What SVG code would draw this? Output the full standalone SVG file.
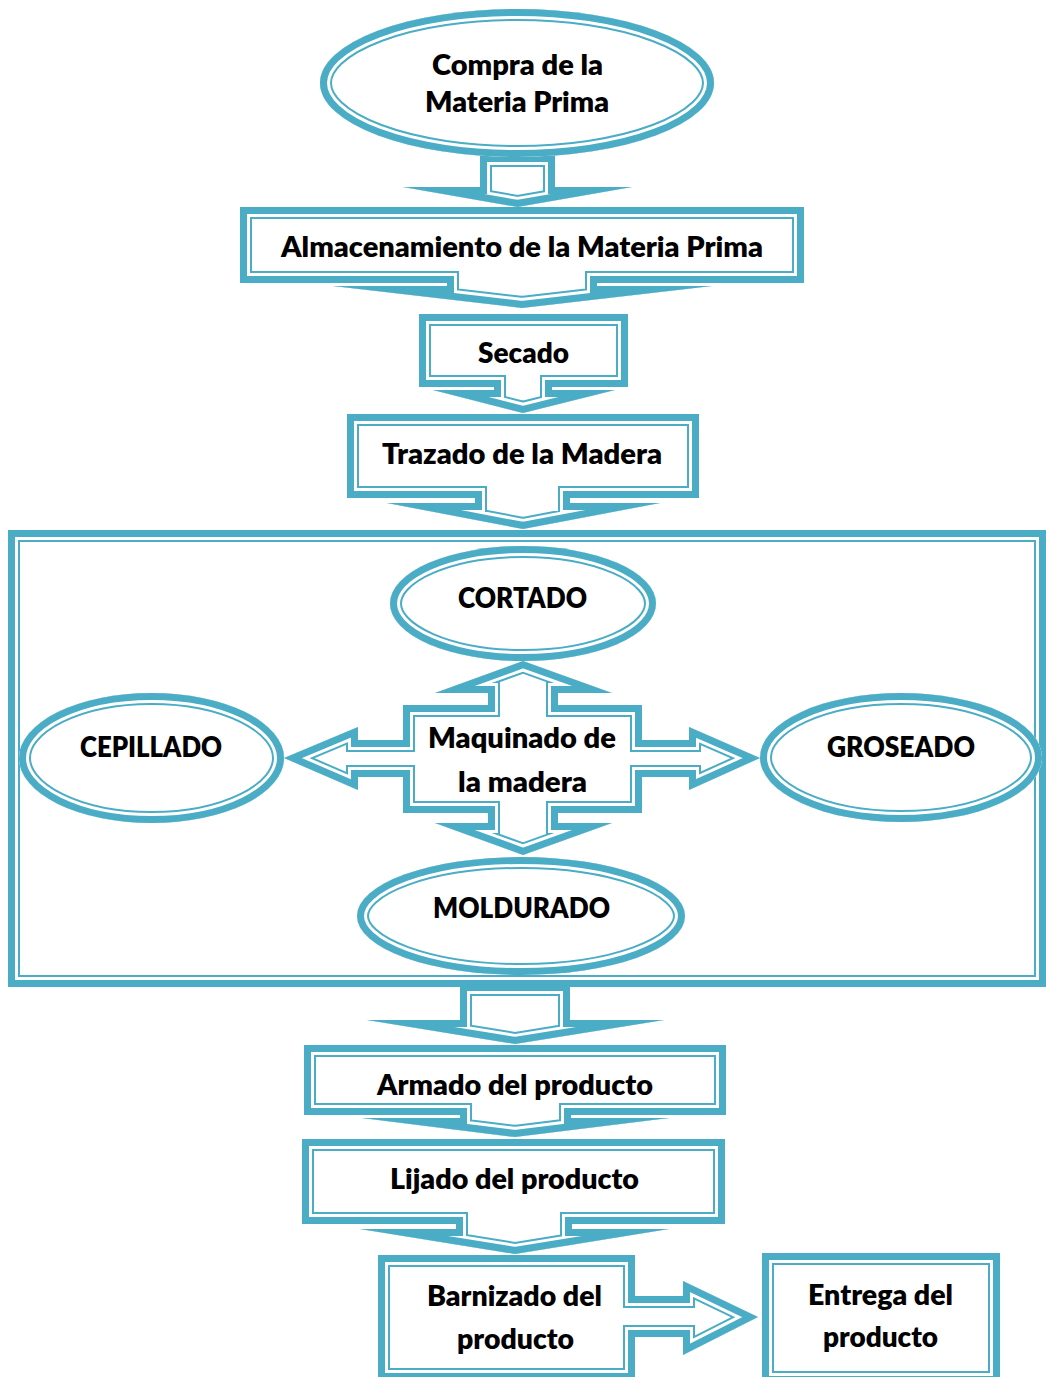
<svg xmlns="http://www.w3.org/2000/svg" xmlns:xlink="http://www.w3.org/1999/xlink" width="1046" height="1377" viewBox="0 0 1046 1377">
<style>
.body{fill:#ffffff;stroke:none}
.k1{fill:none;stroke:#4BACC6;stroke-width:24;stroke-linejoin:miter;stroke-miterlimit:20}
.k2{fill:none;stroke:#ffffff;stroke-width:20;stroke-linejoin:miter;stroke-miterlimit:20}
.k3{fill:none;stroke:#4BACC6;stroke-width:14;stroke-linejoin:miter;stroke-miterlimit:20}
text{font-family:"Lato","Liberation Sans",sans-serif;font-weight:800;font-size:29px;fill:#000000;text-anchor:middle}
</style>
<defs>
<clipPath id="c-a1"><use href="#s-a1"/></clipPath>
<clipPath id="c-a2"><use href="#s-a2"/></clipPath>
<clipPath id="c-compra"><use href="#s-compra"/></clipPath>
<clipPath id="c-alm"><use href="#s-alm"/></clipPath>
<clipPath id="c-sec"><use href="#s-sec"/></clipPath>
<clipPath id="c-tra"><use href="#s-tra"/></clipPath>
<clipPath id="c-big"><use href="#s-big"/></clipPath>
<clipPath id="c-cor"><use href="#s-cor"/></clipPath>
<clipPath id="c-maq"><use href="#s-maq"/></clipPath>
<clipPath id="c-cep"><use href="#s-cep"/></clipPath>
<clipPath id="c-gro"><use href="#s-gro"/></clipPath>
<clipPath id="c-mol"><use href="#s-mol"/></clipPath>
<clipPath id="c-arm"><use href="#s-arm"/></clipPath>
<clipPath id="c-lij"><use href="#s-lij"/></clipPath>
<clipPath id="c-bar"><use href="#s-bar"/></clipPath>
<clipPath id="c-ent"><use href="#s-ent"/></clipPath>
</defs>

<g id="connectors">
  <g clip-path="url(#c-a1)" class="body">
    <path id="s-a1" d="M480,155 H555 V187 H632 L517.5,207 L403,187 H480 Z"/>
    <use href="#s-a1" class="k1"/><use href="#s-a1" class="k2"/><use href="#s-a1" class="k3"/>
  </g>
  <g clip-path="url(#c-a2)" class="body">
    <path id="s-a2" d="M460,984 H570 V1020 H664 L515,1044 L367,1020 H460 Z"/>
    <use href="#s-a2" class="k1"/><use href="#s-a2" class="k2"/><use href="#s-a2" class="k3"/>
  </g>
</g>

<g id="n-compra">
  <g clip-path="url(#c-compra)" class="body">
    <ellipse id="s-compra" cx="517" cy="83" rx="197" ry="74"/>
    <use href="#s-compra" class="k1"/><use href="#s-compra" class="k2"/><use href="#s-compra" class="k3"/>
  </g>
  <text x="517.5" y="75" textLength="171" lengthAdjust="spacingAndGlyphs">Compra de la</text>
  <text x="517" y="112" textLength="184" lengthAdjust="spacingAndGlyphs">Materia Prima</text>
</g>

<g id="n-almacenamiento">
  <g clip-path="url(#c-alm)" class="body">
    <path id="s-alm" d="M240,207 H804 V283 H597 V286 H712 L522,308 L333,286 H447 V283 H240 Z"/>
    <use href="#s-alm" class="k1"/><use href="#s-alm" class="k2"/><use href="#s-alm" class="k3"/>
  </g>
  <text x="522" y="257" textLength="482" lengthAdjust="spacingAndGlyphs">Almacenamiento de la Materia Prima</text>
</g>

<g id="n-secado">
  <g clip-path="url(#c-sec)" class="body">
    <path id="s-sec" d="M419,314 H628 V387 H552 V390 H615 L523,413 L433,390 H494 V387 H419 Z"/>
    <use href="#s-sec" class="k1"/><use href="#s-sec" class="k2"/><use href="#s-sec" class="k3"/>
  </g>
  <text x="523.5" y="363" textLength="91" lengthAdjust="spacingAndGlyphs">Secado</text>
</g>

<g id="n-trazado">
  <g clip-path="url(#c-tra)" class="body">
    <path id="s-tra" d="M347,414 H699 V498 H570 V503 H660 L523,529 L387,503 H475 V498 H347 Z"/>
    <use href="#s-tra" class="k1"/><use href="#s-tra" class="k2"/><use href="#s-tra" class="k3"/>
  </g>
  <text x="522" y="464" textLength="280" lengthAdjust="spacingAndGlyphs">Trazado de la Madera</text>
</g>

<g id="n-maquinado-grupo">
  <g clip-path="url(#c-big)" class="body">
    <rect id="s-big" x="8" y="530" width="1038" height="457"/>
    <use href="#s-big" class="k1"/><use href="#s-big" class="k2"/><use href="#s-big" class="k3"/>
  </g>
</g>

<g id="n-cortado">
  <g clip-path="url(#c-cor)" class="body">
    <ellipse id="s-cor" cx="523" cy="603.5" rx="133" ry="57.5"/>
    <use href="#s-cor" class="k1"/><use href="#s-cor" class="k2"/><use href="#s-cor" class="k3"/>
  </g>
  <text x="522.5" y="608" textLength="129" lengthAdjust="spacingAndGlyphs">CORTADO</text>
</g>

<g id="n-cepillado">
  <g clip-path="url(#c-cep)" class="body">
    <ellipse id="s-cep" cx="151.5" cy="758" rx="132.5" ry="65"/>
    <use href="#s-cep" class="k1"/><use href="#s-cep" class="k2"/><use href="#s-cep" class="k3"/>
  </g>
  <text x="151" y="757" textLength="142" lengthAdjust="spacingAndGlyphs">CEPILLADO</text>
</g>

<g id="n-groseado">
  <g clip-path="url(#c-gro)" class="body">
    <ellipse id="s-gro" cx="901" cy="757.5" rx="141" ry="64.5"/>
    <use href="#s-gro" class="k1"/><use href="#s-gro" class="k2"/><use href="#s-gro" class="k3"/>
  </g>
  <text x="901" y="757" textLength="148" lengthAdjust="spacingAndGlyphs">GROSEADO</text>
</g>

<g id="n-moldurado">
  <g clip-path="url(#c-mol)" class="body">
    <ellipse id="s-mol" cx="521" cy="916" rx="164" ry="59"/>
    <use href="#s-mol" class="k1"/><use href="#s-mol" class="k2"/><use href="#s-mol" class="k3"/>
  </g>
  <text x="521.5" y="918" textLength="177" lengthAdjust="spacingAndGlyphs">MOLDURADO</text>
</g>

<g id="n-maquinado">
  <g clip-path="url(#c-maq)" class="body">
    <path id="s-maq" d="M523,661 L612,693 H558 V705 H642 V740 H689 V727 L760,758 L689,790 V777 H642 V813 H558 V823 H612 L523,855 L435,823 H488 V813 H403 V777 H358 V790 L284,758 L358,727 V740 H403 V705 H488 V693 H435 Z"/>
    <use href="#s-maq" class="k1"/><use href="#s-maq" class="k2"/><use href="#s-maq" class="k3"/>
  </g>
  <text x="522" y="748" textLength="188" lengthAdjust="spacingAndGlyphs">Maquinado de</text>
  <text x="522.5" y="792" textLength="129" lengthAdjust="spacingAndGlyphs">la madera</text>
</g>

<g id="n-armado">
  <g clip-path="url(#c-arm)" class="body">
    <path id="s-arm" d="M304,1045 H726 V1115 H571 V1118 H669 L515,1137 L362,1118 H460 V1115 H304 Z"/>
    <use href="#s-arm" class="k1"/><use href="#s-arm" class="k2"/><use href="#s-arm" class="k3"/>
  </g>
  <text x="515" y="1095" textLength="276" lengthAdjust="spacingAndGlyphs">Armado del producto</text>
</g>

<g id="n-lijado">
  <g clip-path="url(#c-lij)" class="body">
    <path id="s-lij" d="M302,1139 H725 V1224 H572 V1229 H669 L515,1254 L360,1229 H456 V1224 H302 Z"/>
    <use href="#s-lij" class="k1"/><use href="#s-lij" class="k2"/><use href="#s-lij" class="k3"/>
  </g>
  <text x="514.5" y="1189" textLength="249" lengthAdjust="spacingAndGlyphs">Lijado del producto</text>
</g>

<g id="n-barnizado">
  <g clip-path="url(#c-bar)" class="body">
    <path id="s-bar" d="M378,1255 H635 V1296 H683 V1281 L758,1317 L683,1355 V1337 H635 V1380 H378 Z"/>
    <use href="#s-bar" class="k1"/><use href="#s-bar" class="k2"/><use href="#s-bar" class="k3"/>
  </g>
  <text x="514.5" y="1306" textLength="175" lengthAdjust="spacingAndGlyphs">Barnizado del</text>
  <text x="515.5" y="1349" textLength="117" lengthAdjust="spacingAndGlyphs">producto</text>
</g>

<g id="n-entrega">
  <g clip-path="url(#c-ent)" class="body">
    <rect id="s-ent" x="762" y="1253" width="238" height="130"/>
    <use href="#s-ent" class="k1"/><use href="#s-ent" class="k2"/><use href="#s-ent" class="k3"/>
  </g>
  <text x="880.5" y="1305" textLength="145" lengthAdjust="spacingAndGlyphs">Entrega del</text>
  <text x="880.5" y="1347" textLength="115" lengthAdjust="spacingAndGlyphs">producto</text>
</g>
</svg>
